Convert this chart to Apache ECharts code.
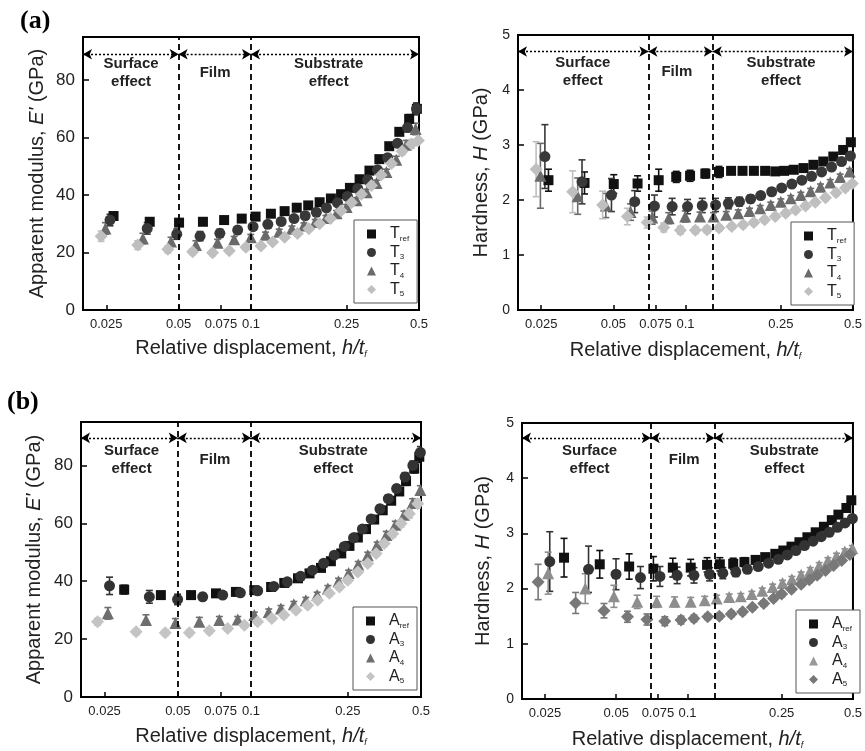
<!DOCTYPE html>
<html><head><meta charset="utf-8">
<script src="https://cdn.jsdelivr.net/npm/echarts@6/dist/echarts.min.js"></script>
<style>html,body{margin:0;padding:0;background:#fff}#c{width:865px;height:751px}</style>
</head><body><div id="c"></div>
<script>
// ---------- DATA ----------
const xTicks = [0.025, 0.05, 0.075, 0.1, 0.25, 0.5];
const xRange = [0.02, 0.5];
const yRangeE = [0, 95];
const yRangeH = [0, 5];
const dividersE = [0.05, 0.1];
const dividersH = [0.07, 0.13];
const regionNames = ['Surface\neffect', 'Film', 'Substrate\neffect'];

// (a) T series: relative displacement
const xTref = [0.0268,0.0379,0.0502,0.0631,0.0773,0.0915,0.1045,0.121,0.138,0.155,0.173,0.193,0.215,0.237,0.258,0.283,0.311,0.342,0.376,0.414,0.455,0.49];
const xT3   = [0.0259,0.037,0.0491,0.0614,0.0742,0.088,0.102,0.1175,0.1335,0.151,0.168,0.187,0.206,0.229,0.252,0.278,0.306,0.336,0.37,0.407,0.448,0.488];
const xT4   = [0.0248,0.0355,0.0465,0.059,0.0726,0.0851,0.0998,0.115,0.131,0.148,0.166,0.185,0.205,0.227,0.25,0.275,0.303,0.333,0.366,0.402,0.442,0.484];
const xT5   = [0.0238,0.0338,0.0451,0.0572,0.0692,0.0812,0.0952,0.11,0.123,0.138,0.156,0.174,0.193,0.214,0.237,0.262,0.288,0.317,0.348,0.384,0.425,0.465,0.497];
// (a) modulus E' (GPa)
const E_Tref = [32.7,30.7,30.4,30.7,31.3,31.8,32.5,33.5,34.4,35.6,36.4,37.5,38.8,40.3,42.5,45.5,48.5,52.5,57,62,66.5,70];
const E_T3   = [31.3,28.4,26.4,25.7,26.7,27.8,29.0,29.8,30.8,31.8,32.8,34,35.5,37.3,39.5,42.2,45.3,48.8,53,58,63.5,70];
const E_T4   = [28.4,24.9,23.8,22.6,23.4,24.6,25.3,26.2,27.2,28.3,29.4,30.6,32,33.7,35.8,38.2,41,44.2,48,52.3,57.5,63];
const E_T5   = [25.7,22.6,21.1,20.3,19.9,20.6,21.8,22.3,23.7,25.3,26.6,28.3,30,31.8,34.5,37.4,40.3,43.3,47,51,55.2,57.8,59];
const errE_Tref = [1.2,1.0,1.0,1.0,0.9,0.9,0.9,0.8,0.8,0.8,0.8,0.8,0.8,0.8,0.8,0.9,0.9,1.0,1.0,1.2,1.5,2.0];
const errE_T3   = [2.0,2.0,1.8,1.6,1.4,1.2,1.0,0.9,0.9,0.9,0.9,0.9,0.9,0.9,0.9,0.9,1.0,1.0,1.0,1.2,1.5,2.0];
const errE_T4   = [2.0,1.8,1.5,1.5,1.2,1.0,1.0,0.9,0.9,0.9,0.9,0.9,0.9,0.9,0.9,0.9,1.0,1.0,1.0,1.2,1.5,2.0];
const errE_T5   = [1.8,1.5,1.2,1.0,1.0,0.9,0.9,0.8,0.8,0.8,0.8,0.8,0.8,0.8,0.8,0.8,0.9,0.9,1.0,1.0,1.2,1.5,1.8];
// (a) hardness H (GPa)
const H_Tref = [2.36,2.31,2.29,2.30,2.36,2.42,2.44,2.48,2.51,2.53,2.53,2.53,2.53,2.52,2.53,2.55,2.58,2.64,2.70,2.79,2.91,3.05];
const H_T3   = [2.79,2.33,2.09,1.97,1.89,1.88,1.88,1.90,1.91,1.94,1.97,2.02,2.08,2.15,2.22,2.29,2.36,2.43,2.51,2.60,2.70,2.80];
const H_T4   = [2.44,2.07,1.90,1.78,1.68,1.67,1.70,1.70,1.70,1.73,1.76,1.80,1.85,1.91,1.97,2.03,2.09,2.16,2.24,2.32,2.42,2.52];
const H_T5   = [2.56,2.15,1.91,1.70,1.59,1.50,1.45,1.45,1.46,1.49,1.52,1.55,1.59,1.64,1.70,1.76,1.82,1.89,1.96,2.04,2.13,2.22,2.30];
const errH_Tref = [0.2,0.2,0.17,0.14,0.2,0.1,0.1,0.08,0.1,0.05,0.04,0.04,0.04,0.04,0.04,0.04,0.04,0.04,0.04,0.05,0.05,0.05];
const errH_T3   = [0.58,0.4,0.3,0.2,0.2,0.15,0.13,0.13,0.12,0.1,0.08,0.07,0.06,0.06,0.05,0.05,0.05,0.05,0.05,0.05,0.05,0.05];
const errH_T4   = [0.59,0.33,0.22,0.15,0.12,0.1,0.1,0.08,0.07,0.06,0.06,0.05,0.05,0.05,0.05,0.05,0.05,0.05,0.05,0.05,0.05,0.05];
const errH_T5   = [0.5,0.38,0.25,0.15,0.1,0.08,0.07,0.06,0.06,0.05,0.05,0.05,0.05,0.05,0.05,0.05,0.05,0.05,0.05,0.05,0.05,0.05,0.05];

// (b) A series: relative displacement
const xAref = [0.0301,0.0426,0.0567,0.0718,0.0867,0.1032,0.121,0.137,0.156,0.174,0.194,0.213,0.235,0.254,0.275,0.297,0.321,0.348,0.377,0.407,0.434,0.469,0.492];
const xA3   = [0.0262,0.0382,0.0499,0.0633,0.0765,0.0904,0.1065,0.124,0.141,0.16,0.179,0.199,0.22,0.242,0.264,0.287,0.312,0.339,0.367,0.397,0.43,0.463,0.497];
const xA4   = [0.0258,0.037,0.0489,0.0613,0.0741,0.0882,0.1032,0.1183,0.1328,0.15,0.168,0.187,0.207,0.229,0.252,0.276,0.302,0.33,0.36,0.392,0.426,0.462,0.497];
const xA5   = [0.0234,0.0337,0.0444,0.0558,0.0674,0.0802,0.0939,0.1065,0.1217,0.1364,0.1531,0.171,0.188,0.21,0.231,0.25,0.275,0.302,0.327,0.353,0.383,0.414,0.448,0.485];
// (b) modulus E' (GPa)
const E_Aref = [37.1,35.2,35.2,35.8,36.3,36.9,38.0,39.4,41.0,42.7,44.6,46.9,49.6,52.2,55.1,58.0,61.3,64.5,67.8,71.0,74.6,78.9,83.0];
const E_A3   = [38.4,34.6,33.7,34.6,35.2,36.0,36.7,38.2,39.8,41.7,43.8,46.2,49.0,52.0,55.0,58.0,61.5,65.0,68.5,72.0,76.0,80.0,84.5];
const E_A4   = [28.9,26.6,25.6,26.0,26.6,26.8,28.3,29.4,30.6,32.0,33.4,35.2,37.5,40.0,42.8,45.8,49.0,52.5,56.0,59.5,63.0,67.0,71.5];
const E_A5   = [26.0,22.5,22.2,22.2,22.9,23.7,24.8,26.0,27.1,28.3,30,31.7,33.4,35.8,38,40.3,43.2,46.1,49.6,53,56.4,59.9,63.3,66.8];
const errE_Aref = [1.5,1.2,1.2,1.2,1.0,1.0,1.0,1.0,1.0,1.0,1.0,1.0,1.0,1.0,1.0,1.0,1.0,1.2,1.2,1.2,1.5,1.5,2.0];
const errE_A3   = [3.0,2.2,1.8,1.2,1.0,1.0,1.0,1.0,1.0,1.0,1.0,1.0,1.0,1.0,1.0,1.0,1.0,1.2,1.2,1.2,1.5,1.5,2.0];
const errE_A4   = [2.0,1.8,1.5,1.5,1.2,1.0,1.0,1.0,1.0,1.0,1.0,1.0,1.0,1.0,1.0,1.0,1.0,1.0,1.2,1.2,1.2,1.5,1.5];
const errE_A5   = [1.2,1.0,1.0,1.0,1.0,0.9,0.9,0.9,0.9,0.9,0.9,0.9,0.9,0.9,0.9,0.9,0.9,1.0,1.0,1.0,1.2,1.2,1.5,1.5];
// (b) hardness H (GPa)
const H_Aref = [2.56,2.44,2.40,2.36,2.38,2.38,2.43,2.44,2.45,2.48,2.52,2.57,2.63,2.69,2.76,2.84,2.93,3.02,3.12,3.24,3.34,3.46,3.60];
const H_A3   = [2.49,2.35,2.26,2.20,2.22,2.24,2.24,2.26,2.28,2.30,2.35,2.40,2.46,2.53,2.61,2.69,2.78,2.86,2.94,3.02,3.11,3.19,3.27];
const H_A4   = [2.28,2.00,1.86,1.76,1.76,1.76,1.76,1.79,1.82,1.85,1.86,1.90,1.96,2.03,2.10,2.17,2.25,2.33,2.42,2.51,2.59,2.67,2.73];
const H_A5   = [2.12,1.74,1.60,1.49,1.44,1.41,1.43,1.46,1.49,1.50,1.54,1.58,1.66,1.73,1.82,1.90,1.99,2.08,2.16,2.24,2.33,2.42,2.51,2.62];
const errH_Aref = [0.35,0.25,0.23,0.22,0.17,0.15,0.13,0.12,0.1,0.08,0.07,0.06,0.05,0.05,0.05,0.05,0.05,0.05,0.05,0.05,0.05,0.05,0.05];
const errH_A3   = [0.54,0.42,0.28,0.2,0.18,0.15,0.14,0.12,0.1,0.08,0.07,0.06,0.05,0.05,0.05,0.05,0.05,0.05,0.05,0.05,0.05,0.05,0.05];
const errH_A4   = [0.38,0.27,0.2,0.12,0.1,0.09,0.08,0.07,0.06,0.05,0.05,0.05,0.05,0.05,0.05,0.05,0.05,0.05,0.05,0.05,0.05,0.05,0.05];
const errH_A5   = [0.32,0.19,0.13,0.1,0.1,0.08,0.07,0.06,0.05,0.05,0.05,0.05,0.05,0.05,0.05,0.05,0.05,0.05,0.05,0.05,0.05,0.05,0.05,0.05];

// ---------- STYLE / LAYOUT ----------
const FF = '"Liberation Sans", Arial, Helvetica, sans-serif';
const TXT = '#222';

const specTE = [
  {name:'T_ref', x:xTref, y:E_Tref, e:errE_Tref, symbol:'rect', size:10, color:'#111'},
  {name:'T_3', x:xT3, y:E_T3, e:errE_T3, symbol:'circle', size:11, color:'#383838'},
  {name:'T_4', x:xT4, y:E_T4, e:errE_T4, symbol:'triangle', size:12, color:'#6a6a6a'},
  {name:'T_5', x:xT5, y:E_T5, e:errE_T5, symbol:'diamond', size:13, color:'#bfbfbf'}
];
const specTH = [
  {name:'T_ref', x:xTref, y:H_Tref, e:errH_Tref, symbol:'rect', size:10, color:'#111'},
  {name:'T_3', x:xT3, y:H_T3, e:errH_T3, symbol:'circle', size:11, color:'#383838'},
  {name:'T_4', x:xT4, y:H_T4, e:errH_T4, symbol:'triangle', size:12, color:'#6a6a6a'},
  {name:'T_5', x:xT5, y:H_T5, e:errH_T5, symbol:'diamond', size:13, color:'#bfbfbf'}
];
const specAE = [
  {name:'A_ref', x:xAref, y:E_Aref, e:errE_Aref, symbol:'rect', size:10, color:'#111'},
  {name:'A_3', x:xA3, y:E_A3, e:errE_A3, symbol:'circle', size:11, color:'#333'},
  {name:'A_4', x:xA4, y:E_A4, e:errE_A4, symbol:'triangle', size:12, color:'#6e6e6e'},
  {name:'A_5', x:xA5, y:E_A5, e:errE_A5, symbol:'diamond', size:13, color:'#c4c4c4'}
];
const specAH = [
  {name:'A_ref', x:xAref, y:H_Aref, e:errH_Aref, symbol:'rect', size:10, color:'#111'},
  {name:'A_3', x:xA3, y:H_A3, e:errH_A3, symbol:'circle', size:11, color:'#333'},
  {name:'A_4', x:xA4, y:H_A4, e:errH_A4, symbol:'triangle', size:12, color:'#8e8e8e', legendColor:'#9a9a9a'},
  {name:'A_5', x:xA5, y:H_A5, e:errH_A5, symbol:'diamond', size:13, color:'#787878'}
];

const layout = [
  {grid:{left:83,top:37,width:336,height:273}, kind:'E', specs:specTE, div:dividersE, arrowY:89, textY:82.4, textX:[0.0317,0.0709,0.2104], legend:{left:354,top:220}, yGap:36, yFont:17, xGap:27},
  {grid:{left:518,top:35,width:337,height:275}, kind:'H', specs:specTH, div:dividersH, arrowY:4.7, textY:4.33, textX:[0.0373,0.092,0.2506], legend:{left:791,top:222}, yGap:27, yFont:14, xGap:29},
  {grid:{left:81,top:422,width:340,height:275}, kind:'E', specs:specAE, div:dividersE, arrowY:89.5, textY:82, textX:[0.0323,0.0711,0.218], legend:{left:353,top:607}, yGap:37, yFont:17, xGap:28},
  {grid:{left:522,top:423,width:338,height:276}, kind:'H', specs:specAH, div:dividersH, arrowY:4.73, textY:4.33, textX:[0.0386,0.0968,0.2566], legend:{left:796,top:610}, yGap:29, yFont:14, xGap:29}
];

// ---------- BUILD ----------
function errorBarSeries(g, s) {
  return {
    type:'custom', xAxisIndex:g, yAxisIndex:g, clip:true, silent:true, z:2,
    data: s.x.map((v,i)=>[v, s.y[i], s.e[i]]),
    encode:{x:0, y:1},
    renderItem:(params, api)=>{
      const xv=api.value(0), yv=api.value(1), e=api.value(2);
      const t=api.coord([xv, yv+e]), b=api.coord([xv, yv-e]);
      const hw=3.5, st={stroke:s.color, lineWidth:1.6};
      return {type:'group', children:[
        {type:'line', shape:{x1:t[0],y1:t[1],x2:b[0],y2:b[1]}, style:st},
        {type:'line', shape:{x1:t[0]-hw,y1:t[1],x2:t[0]+hw,y2:t[1]}, style:st},
        {type:'line', shape:{x1:b[0]-hw,y1:b[1],x2:b[0]+hw,y2:b[1]}, style:st}
      ]};
    }
  };
}
function scatterSeries(g, s) {
  return {
    type:'scatter', name:s.name, xAxisIndex:g, yAxisIndex:g, clip:true, z:3,
    symbol:s.symbol, symbolSize:s.size, itemStyle:{color:s.color, opacity:1},
    data: s.x.map((v,i)=>[v, s.y[i]])
  };
}
function annotationSeries(g, p) {
  const bounds = [xRange[0], p.div[0], p.div[1], xRange[1]];
  return [
    { type:'scatter', xAxisIndex:g, yAxisIndex:g, data:[], silent:true, z:4,
      markLine:{ silent:true, animation:false, symbol:'none', label:{show:false},
        lineStyle:{type:[6,4], color:'#000', width:1.8},
        data: p.div.map(d=>({xAxis:d})) } },
    { type:'scatter', xAxisIndex:g, yAxisIndex:g, data:[], silent:true, z:4,
      markLine:{ silent:true, animation:false, symbol:['arrow','arrow'], symbolSize:[8,9], label:{show:false},
        lineStyle:{type:[2,2], color:'#000', width:1.3},
        data: [0,1,2].map(i=>[{coord:[bounds[i], p.arrowY]}, {coord:[bounds[i+1], p.arrowY]}]) },
      markPoint:{ silent:true, animation:false, symbol:'circle', symbolSize:1, itemStyle:{color:'rgba(0,0,0,0)'},
        label:{show:true, position:'inside', formatter:q=>q.name, fontSize:15, fontWeight:'bold', color:TXT, fontFamily:FF, lineHeight:18},
        data: regionNames.map((n,i)=>({name:n, coord:[p.textX[i], p.textY]})) } }
  ];
}

const series = [];
layout.forEach((p,g)=>{
  p.specs.forEach(s=>series.push(errorBarSeries(g,s)));
  p.specs.forEach(s=>series.push(scatterSeries(g,s)));
  annotationSeries(g,p).forEach(s=>series.push(s));
});

const option = {
  animation:false,
  backgroundColor:'#fff',
  textStyle:{fontFamily:FF},
  grid: layout.map(p=>Object.assign({show:true, borderColor:'#000', borderWidth:2, backgroundColor:'transparent'}, p.grid)),
  xAxis: layout.map((p,i)=>({
    type:'log', logBase:10, gridIndex:i, min:xRange[0], max:xRange[1],
    name:'Relative displacement, {i|h/t}{s|f}', nameLocation:'middle', nameGap:p.xGap,
    nameTextStyle:{fontSize:20, color:TXT, fontFamily:FF, lineHeight:22,
      rich:{i:{fontStyle:'italic', fontSize:20, color:TXT, fontFamily:FF, lineHeight:22},
            s:{fontStyle:'italic', fontSize:9, color:TXT, fontFamily:FF, verticalAlign:'bottom', lineHeight:9}}},
    axisLine:{show:true, onZero:false, lineStyle:{color:'#000', width:2}},
    axisTick:{show:true, inside:true, length:5, customValues:xTicks, lineStyle:{color:'#000', width:1.5}},
    minorTick:{show:false}, splitLine:{show:false}, minorSplitLine:{show:false},
    axisLabel:{show:true, customValues:xTicks, fontSize:13, color:TXT, fontFamily:FF, margin:8,
      formatter:v=>String(+(+v).toPrecision(3))}
  })),
  yAxis: layout.map((p,i)=>({
    type:'value', gridIndex:i,
    min: p.kind==='E'?yRangeE[0]:yRangeH[0], max: p.kind==='E'?yRangeE[1]:yRangeH[1],
    interval: p.kind==='E'?20:1,
    name: p.kind==='E' ? "Apparent modulus, {i|E'} (GPa)" : 'Hardness, {i|H} (GPa)',
    nameLocation:'middle', nameGap:p.yGap, nameRotate:90,
    nameTextStyle:{fontSize:20, color:TXT, fontFamily:FF,
      rich:{i:{fontStyle:'italic', fontSize:20, color:TXT, fontFamily:FF}}},
    axisLine:{show:true, onZero:false, lineStyle:{color:'#000', width:2}},
    axisTick:{show:true, inside:true, length:6, lineStyle:{color:'#000', width:1.5}},
    splitLine:{show:false},
    axisLabel:{fontSize:p.yFont, color:TXT, fontFamily:FF, margin:8, showMaxLabel: p.kind==='H'}
  })),
  legend: layout.map(p=>({
    orient:'vertical', left:p.legend.left, top:p.legend.top, itemWidth:9, itemHeight:9, itemGap:2,
    padding:[6,8,5,13], borderColor:'#555', borderWidth:1, backgroundColor:'#fff', selectedMode:false,
    data: p.specs.map(s=>({name:s.name, icon:s.symbol, itemStyle:{color:s.legendColor||s.color}})),
    formatter: n=>{ const q=n.split('_'); return '{m|'+q[0]+'}{s|'+q[1]+'}'; },
    textStyle:{rich:{
      m:{fontSize:16, lineHeight:17, color:TXT, fontFamily:FF, padding:[0,0,0,9]},
      s:{fontSize:8, lineHeight:8, color:TXT, fontFamily:FF, verticalAlign:'bottom'}
    }}
  })),
  graphic:[
    {type:'text', left:20, top:8, style:{text:'(a)', font:'bold 26px "Liberation Serif", "Times New Roman", serif', fill:'#000'}},
    {type:'text', left:7, top:389, style:{text:'(b)', font:'bold 26px "Liberation Serif", "Times New Roman", serif', fill:'#000'}}
  ],
  series: series
};

const chart = echarts.init(document.getElementById('c'), null, {renderer:'canvas'});
chart.setOption(option);
</script>
</body></html>
